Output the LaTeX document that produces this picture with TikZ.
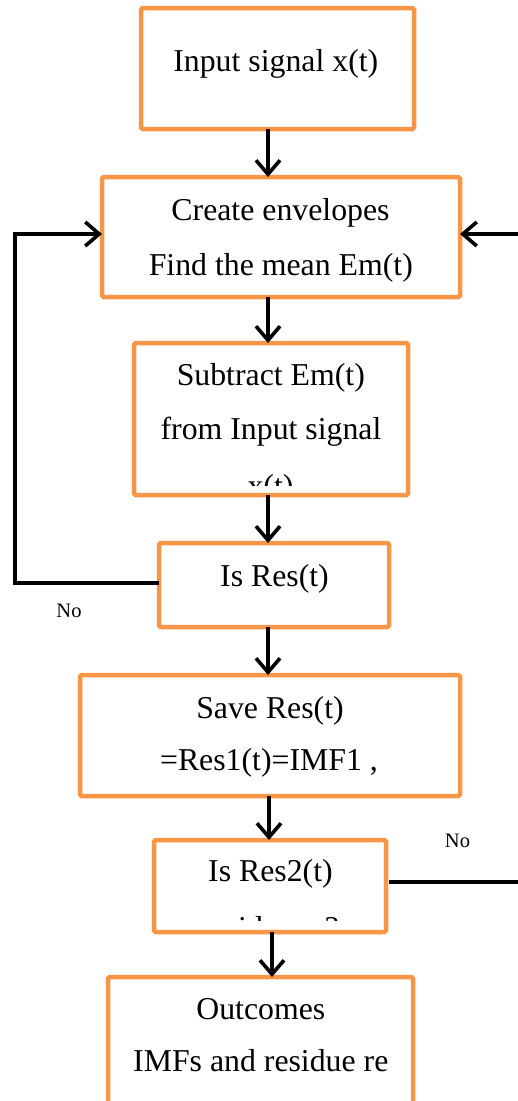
\documentclass[tikz,border=0pt]{standalone}
\usepackage{fontspec}
\setmainfont{Liberation Serif}
\usetikzlibrary{arrows.meta}
\definecolor{boxorange}{HTML}{F79646}
\tikzset{
  box/.style={draw=boxorange, line width=4.5pt, rectangle, rounded corners=1.5pt, outer sep=0pt, inner sep=0pt, fill=white},
  txt/.style={anchor=base, inner sep=0pt, font=\fontsize{31.8}{38}\selectfont},
  smalltxt/.style={anchor=base, inner sep=0pt, font=\fontsize{20.5}{24}\selectfont},
  conn/.style={draw=black, line width=3.6pt, line join=miter},
  arr/.style={conn, -{Straight Barb[length=14pt,width=24pt]}}
}
\begin{document}
\begin{tikzpicture}[x=1pt,y=-1pt]
\useasboundingbox (0,0) rectangle (518,1101);
\clip (0,0) rectangle (518,1101);
% boxes
\node[box, minimum width=273pt, minimum height=121pt] (b1) at (277.5,68.5) {};
\node[box, minimum width=358pt, minimum height=120pt] (b2) at (281,237) {};
\node[box, minimum width=274pt, minimum height=152pt] (b3) at (271,419) {};
\node[box, minimum width=230pt, minimum height=84pt] (b4) at (274,585) {};
\node[box, minimum width=380pt, minimum height=121pt] (b5) at (270,735.5) {};
\node[box, minimum width=232pt, minimum height=92pt] (b6) at (270,886) {};
\node[box, minimum width=305pt, minimum height=153pt] (b7) at (260.5,1053.5) {};
% texts
\node[txt] (t1) at (275.8,71) {Input signal x(t)};
\node[txt] (t2a) at (280.5,220) {Create envelopes};
\node[txt] (t2b) at (280.8,275) {Find the mean Em(t)};
\node[txt] (t3a) at (270.8,385) {Subtract Em(t)};
\node[txt] (t3b) at (271,439) {from Input signal};
\begin{scope}
  \clip (137,346) rectangle (405,485);
  \node[txt] (t3c) at (270.5,496) {x(t)};
\end{scope}
\node[txt] (t4) at (274.5,586) {Is Res(t)};
\node[txt] (t5a) at (270,718) {Save Res(t)};
\node[txt] (t5b) at (269,770) {=Res1(t)=IMF1 ,};
\node[txt] (t6a) at (270.5,881) {Is Res2(t)};
\begin{scope}
  \clip (157,843) rectangle (383,920);
  \node[txt] (t6b) at (270,938) {residue~~~~?};
\end{scope}
\node[txt] (t7a) at (260.8,1019) {Outcomes};
\node[txt] (t7b) at (260.8,1071) {IMFs and residue re};
\node[smalltxt] (no1) at (69,617) {No};
\node[smalltxt] (no2) at (457.5,847) {No};
% connectors
\draw[arr] (268,0 |- b1.south) -- (268,0 |- b2.north);
\draw[arr] (268,0 |- b2.south) -- (268,0 |- b3.north);
\draw[arr] (268,0 |- b3.south) -- (268,0 |- b4.north);
\draw[arr] (268,0 |- b4.south) -- (268,0 |- b5.north);
\draw[arr] (269,0 |- b5.south) -- (269,0 |- b6.north);
\draw[arr] (272,0 |- b6.south) -- (272,0 |- b7.north);
\coordinate (lp) at (15,234);
\draw[arr] (b4.west |- 0,583) -| (lp) -- (lp -| b2.west);
\coordinate (rr) at (518,234);
\draw[arr] (rr) -- (rr -| b2.east);
\coordinate (r6) at (518,882);
\draw[conn] ([xshift=3pt]b6.east |- r6) -- (r6);
\end{tikzpicture}
\end{document}
